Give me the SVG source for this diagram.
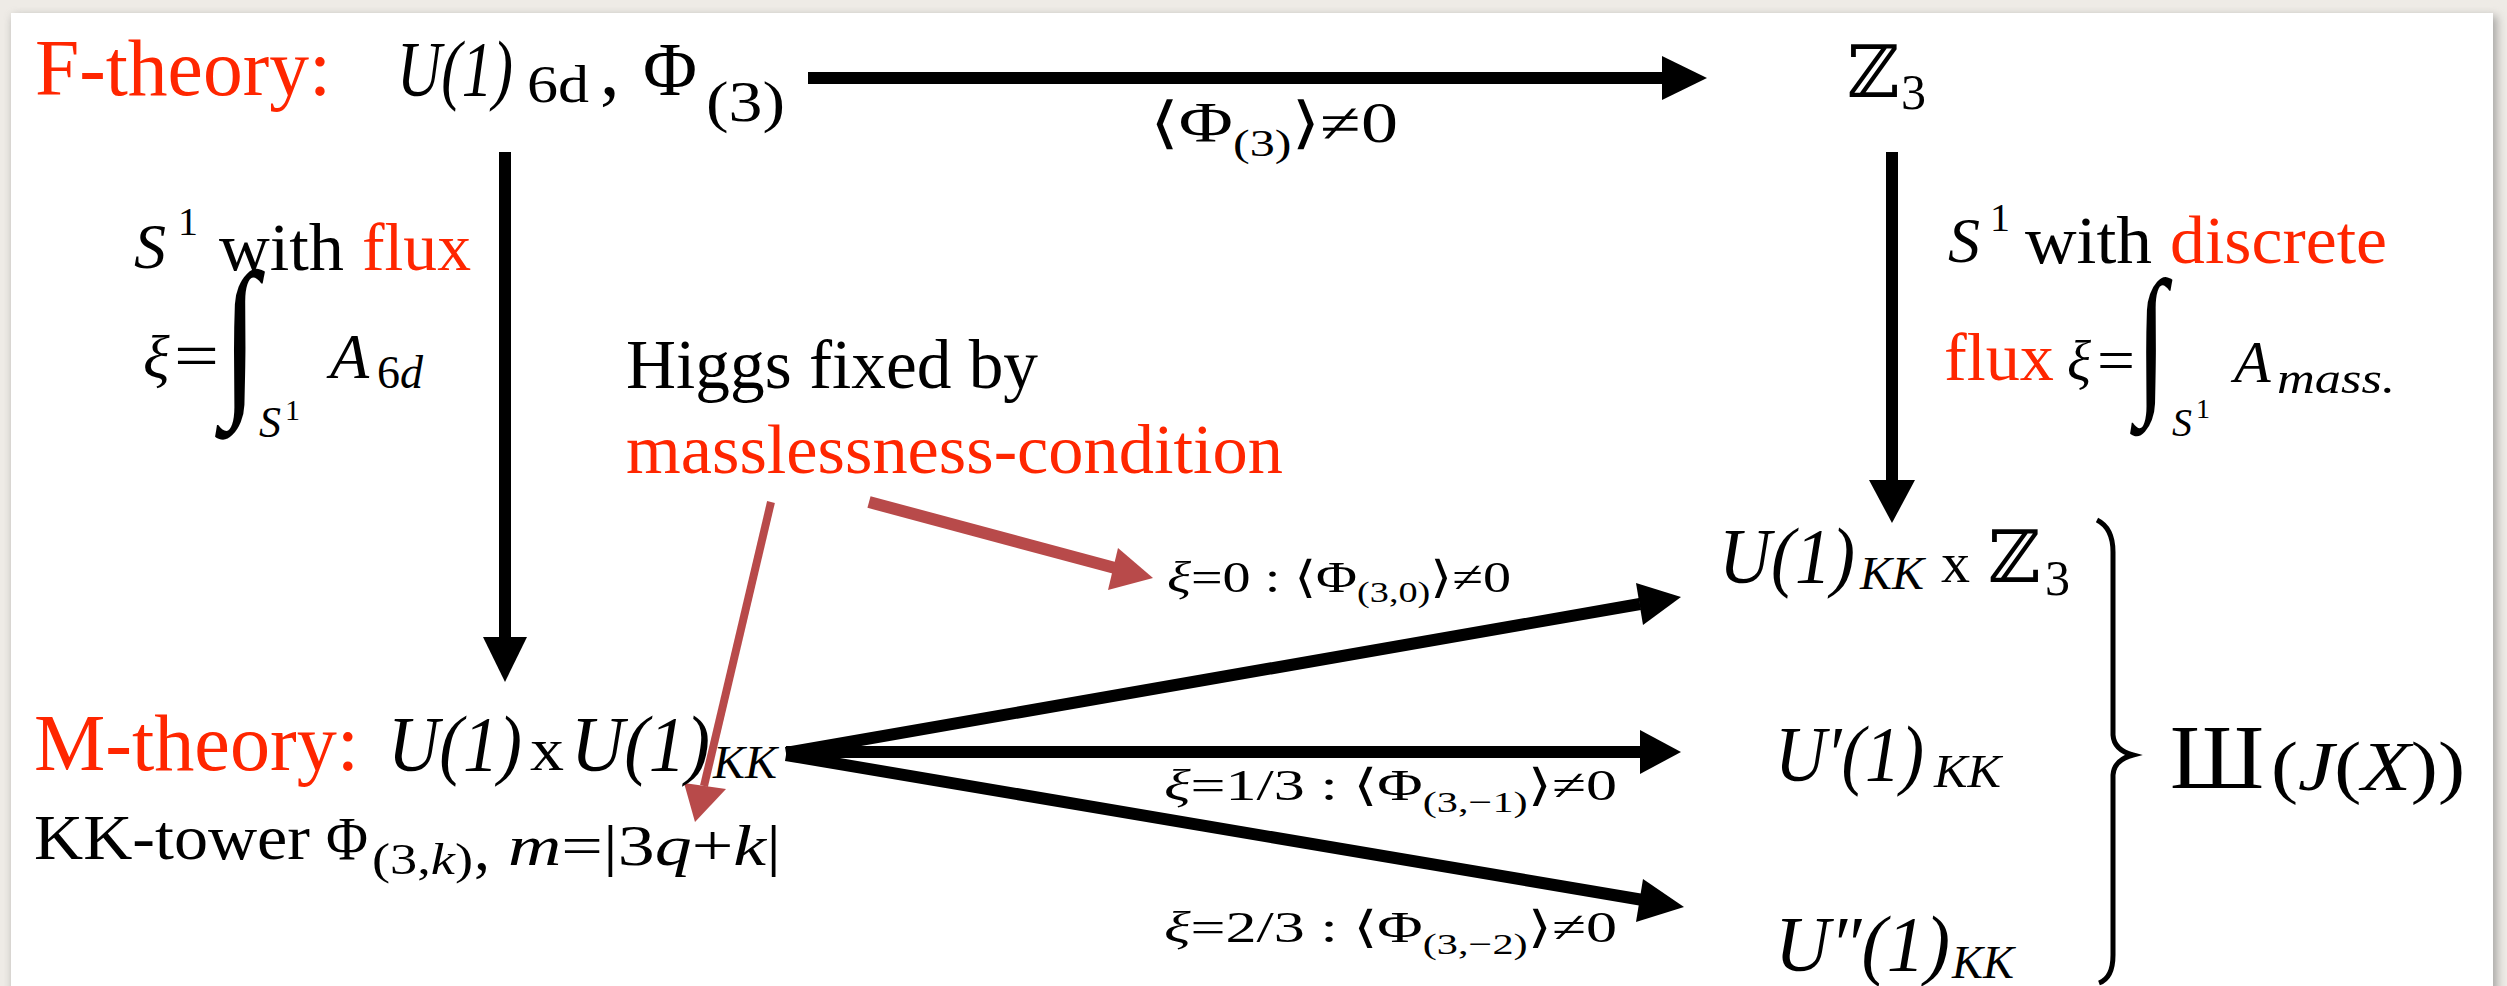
<svg xmlns="http://www.w3.org/2000/svg" width="2507" height="986" viewBox="0 0 2507 986">
<defs>
<style>
text{font-family:"Liberation Serif","DejaVu Serif",serif;fill:#000}
.red{fill:#ff2600}
.it{font-style:italic}
.ds{font-family:"DejaVu Serif","DejaVu Sans",serif}
.conn{stroke:#000;stroke-width:12;fill:none}
.rconn{stroke:#b84a4a;fill:none}
</style>
<filter id="sh" x="-5%" y="-5%" width="110%" height="110%"><feGaussianBlur stdDeviation="5"/></filter>
</defs>
<rect x="0" y="0" width="2507" height="986" fill="#eeebe6"/>
<rect x="13" y="16" width="2484" height="1010" fill="#777" opacity="0.6" filter="url(#sh)"/>
<rect x="11" y="13" width="2482" height="1000" fill="#fff"/>

<g id="connectors">
  <line class="conn" x1="808" y1="78" x2="1664" y2="78"/>
  <polygon points="1662,56 1707,78 1662,100"/>
  <line class="conn" x1="505" y1="152" x2="505" y2="640"/>
  <polygon points="483,637 527,637 505,682"/>
  <line class="conn" x1="1892" y1="152" x2="1892" y2="483"/>
  <polygon points="1869,480 1915,480 1892,523"/>
  <line class="conn" x1="786" y1="753" x2="1640" y2="604"/>
  <polygon points="1636,583 1681,597 1643,625"/>
  <line class="conn" x1="786" y1="752" x2="1642" y2="752"/>
  <polygon points="1640,730 1681,752 1640,774"/>
  <line class="conn" x1="786" y1="755" x2="1643" y2="900"/>
  <polygon points="1643,879 1684,907 1636,922"/>
  <line class="rconn" stroke-width="12" x1="869" y1="502" x2="1115" y2="568"/>
  <polygon fill="#b84a4a" points="1118,548 1153,578 1108,590"/>
  <line class="rconn" stroke-width="8" x1="771" y1="502" x2="704" y2="786"/>
  <polygon fill="#b84a4a" points="684,783 726,789 695,822"/>
  <path d="M2097,520 Q2113,528 2113,552 L2113,735 Q2114,750 2133,755 Q2114,760 2113,775 L2113,955 Q2113,978 2099,983" fill="none" stroke="#000" stroke-width="5"/>
</g>

<g id="f-theory">
  <text class="red" x="35" y="95" font-size="80" textLength="296" lengthAdjust="spacingAndGlyphs">F-theory:</text>
  <text class="it" x="397" y="95" font-size="78" textLength="116" lengthAdjust="spacingAndGlyphs">U(1)</text>
  <text x="527" y="102" font-size="52" textLength="62" lengthAdjust="spacingAndGlyphs">6d</text>
  <text x="600" y="95" font-size="78">,</text>
  <text x="643" y="95" font-size="76" textLength="54" lengthAdjust="spacingAndGlyphs">Φ</text>
  <text x="706" y="121" font-size="56" textLength="79" lengthAdjust="spacingAndGlyphs">(3)</text>
</g>

<g id="label-top">
  <text x="1150" y="142" font-size="56" textLength="248" lengthAdjust="spacingAndGlyphs">⟨Φ<tspan font-size="38" dy="14">(3)</tspan><tspan dy="-14">⟩≠0</tspan></text>
</g>

<g id="z3">
  <text class="ds" x="1847" y="97" font-size="72">ℤ</text>
  <text x="1901" y="109" font-size="50">3</text>
</g>

<g id="left-label">
  <text class="it" x="134" y="268" font-size="64">S</text>
  <text x="178" y="235" font-size="40">1</text>
  <text x="219" y="270" font-size="68" textLength="125" lengthAdjust="spacingAndGlyphs">with</text>
  <text class="red" x="362" y="270" font-size="68" textLength="109" lengthAdjust="spacingAndGlyphs">flux</text>
  <text class="it" x="143" y="378" font-size="62">ξ</text>
  <text x="174" y="378" font-size="66" textLength="45" lengthAdjust="spacingAndGlyphs">=</text>
  <text x="0" y="0" font-size="120" transform="translate(222,393) scale(1.1,1.45)">∫</text>
  <text class="it" x="259" y="437" font-size="44">S</text>
  <text x="285" y="420" font-size="30">1</text>
  <text class="it" x="330" y="378" font-size="64">A</text>
  <text x="377" y="388" font-size="46">6<tspan class="it">d</tspan></text>
</g>

<g id="right-label">
  <text class="it" x="1948" y="262" font-size="64">S</text>
  <text x="1990" y="231" font-size="40">1</text>
  <text x="2025" y="263" font-size="68" textLength="127" lengthAdjust="spacingAndGlyphs">with</text>
  <text class="red" x="2170" y="263" font-size="68" textLength="217" lengthAdjust="spacingAndGlyphs">discrete</text>
  <text class="red" x="1944" y="380" font-size="68" textLength="110" lengthAdjust="spacingAndGlyphs">flux</text>
  <text class="it" x="2067" y="380" font-size="56">ξ</text>
  <text x="2097" y="380" font-size="60" textLength="38" lengthAdjust="spacingAndGlyphs">=</text>
  <text x="0" y="0" font-size="112" transform="translate(2136,393) scale(1,1.45)">∫</text>
  <text class="it" x="2172" y="436" font-size="40">S</text>
  <text x="2196" y="418" font-size="28">1</text>
  <text class="it" x="2234" y="382" font-size="60">A</text>
  <text class="it" x="2277" y="393" font-size="44" textLength="118" lengthAdjust="spacingAndGlyphs">mass.</text>
</g>

<g id="higgs">
  <text x="626" y="388" font-size="70" textLength="412" lengthAdjust="spacingAndGlyphs">Higgs fixed by</text>
  <text class="red" x="626" y="473" font-size="70" textLength="657" lengthAdjust="spacingAndGlyphs">masslessness-condition</text>
</g>

<g id="label-xi0">
  <text x="1167" y="592" font-size="44" textLength="344" lengthAdjust="spacingAndGlyphs"><tspan class="it">ξ</tspan>=0 : ⟨Φ<tspan font-size="30" dy="10">(3,0)</tspan><tspan dy="-10">⟩≠0</tspan></text>
</g>

<g id="m-theory">
  <text class="red" x="34" y="770" font-size="80" textLength="325" lengthAdjust="spacingAndGlyphs">M-theory:</text>
  <text class="it" x="388" y="770" font-size="78" textLength="134" lengthAdjust="spacingAndGlyphs">U(1)</text>
  <text x="530" y="770" font-size="62" textLength="34" lengthAdjust="spacingAndGlyphs">x</text>
  <text class="it" x="571" y="770" font-size="78" textLength="139" lengthAdjust="spacingAndGlyphs">U(1)</text>
  <text class="it" x="713" y="778" font-size="46" textLength="64" lengthAdjust="spacingAndGlyphs">KK</text>
  <text x="34" y="859" font-size="64" textLength="276" lengthAdjust="spacingAndGlyphs">KK-tower</text>
  <text x="326" y="859" font-size="62" textLength="42" lengthAdjust="spacingAndGlyphs">Φ</text>
  <text x="372" y="874" font-size="44" textLength="101" lengthAdjust="spacingAndGlyphs">(3,<tspan class="it">k</tspan>)</text>
  <text x="474" y="870" font-size="64">,</text>
  <text x="508" y="865" font-size="58" textLength="273" lengthAdjust="spacingAndGlyphs"><tspan class="it">m</tspan>=|3<tspan class="it">q</tspan>+<tspan class="it">k</tspan>|</text>
</g>

<g id="label-xi13">
  <text x="1164" y="800" font-size="44" textLength="453" lengthAdjust="spacingAndGlyphs"><tspan class="it">ξ</tspan>=1/3 : ⟨Φ<tspan font-size="30" dy="12">(3,−1)</tspan><tspan dy="-12">⟩≠0</tspan></text>
</g>
<g id="label-xi23">
  <text x="1164" y="942" font-size="44" textLength="453" lengthAdjust="spacingAndGlyphs"><tspan class="it">ξ</tspan>=2/3 : ⟨Φ<tspan font-size="30" dy="12">(3,−2)</tspan><tspan dy="-12">⟩≠0</tspan></text>
</g>

<g id="u1kk-z3">
  <text class="it" x="1719" y="582" font-size="78" textLength="136" lengthAdjust="spacingAndGlyphs">U(1)</text>
  <text class="it" x="1860" y="589" font-size="46" textLength="64" lengthAdjust="spacingAndGlyphs">KK</text>
  <text x="1941" y="582" font-size="56" textLength="29" lengthAdjust="spacingAndGlyphs">x</text>
  <text class="ds" x="1988" y="582" font-size="72">ℤ</text>
  <text x="2045" y="595" font-size="50">3</text>
</g>
<g id="u1kk-prime">
  <text class="it" x="1775" y="780" font-size="78" textLength="149" lengthAdjust="spacingAndGlyphs">U′(1)</text>
  <text class="it" x="1934" y="787" font-size="46" textLength="67" lengthAdjust="spacingAndGlyphs">KK</text>
</g>
<g id="u1kk-dprime">
  <text class="it" x="1775" y="970" font-size="78" textLength="175" lengthAdjust="spacingAndGlyphs">U″(1)</text>
  <text class="it" x="1952" y="978" font-size="46" textLength="62" lengthAdjust="spacingAndGlyphs">KK</text>
</g>
<g id="sha">
  <text x="2170" y="788" font-size="90" textLength="94" lengthAdjust="spacingAndGlyphs">Ш</text>
  <text x="2271" y="790" font-size="70" textLength="194" lengthAdjust="spacingAndGlyphs">(<tspan class="it">J</tspan>(<tspan class="it">X</tspan>))</text>
</g>
</svg>
